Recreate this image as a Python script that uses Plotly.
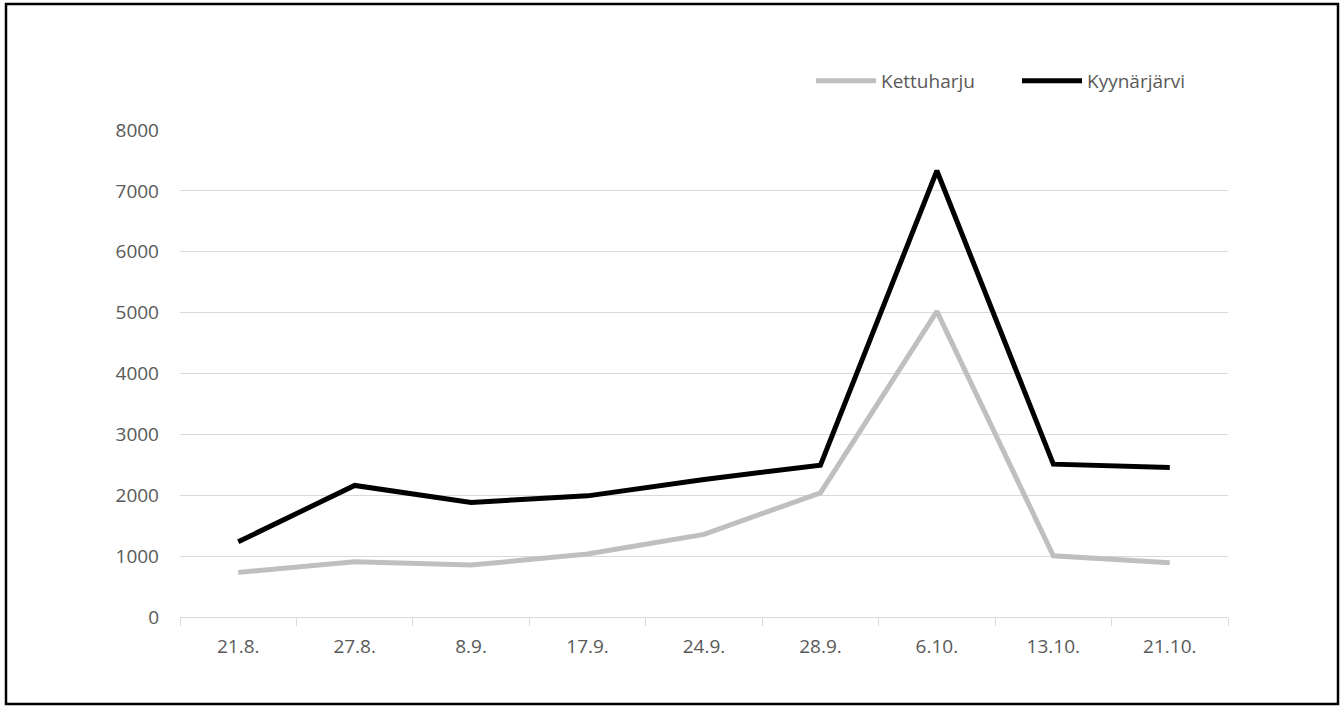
import plotly.graph_objects as go

dates = ["21.8.", "27.8.", "8.9.", "17.9.", "24.9.", "28.9.", "6.10.", "13.10.", "21.10."]
kettuharju = [733, 908, 853, 1034, 1357, 2040, 5020, 1006, 891]
kyynarjarvi = [1236, 2161, 1882, 1990, 2260, 2494, 7330, 2511, 2456]
y_ticks = [0, 1000, 2000, 3000, 4000, 5000, 6000, 7000, 8000]

fig = go.Figure()
fig.add_trace(go.Scatter(x=dates, y=kettuharju, name="Kettuharju", mode="lines",
                         line=dict(color="#BFBFBF", width=5)))
fig.add_trace(go.Scatter(x=dates, y=kyynarjarvi, name="Kyynärjärvi", mode="lines",
                         line=dict(color="#000000", width=5)))

L, R, T, B = 180, 115, 130, 91
W, H = 1343, 708
pw, ph = W - L - R, H - T - B

def px(xp):
    return (xp - L) / pw

def py(yp):
    return (H - B - yp) / ph

fig.update_layout(
    width=W, height=H,
    margin=dict(l=L, r=R, t=T, b=B),
    plot_bgcolor="white", paper_bgcolor="white",
    font=dict(family="Open Sans, Liberation Sans, sans-serif", size=19, color="#595959"),
    showlegend=True,
    legend=dict(orientation="h", x=px(811), y=py(81), xanchor="left", yanchor="middle",
                font=dict(size=19, color="#595959"), bgcolor="rgba(0,0,0,0)",
                itemwidth=60, traceorder="normal", entrywidth=131, entrywidthmode="pixels"),
    xaxis=dict(type="category", range=[-0.5, 8.5], showgrid=False, showline=True,
               linecolor="#D9D9D9", linewidth=1, ticks="outside", tickson="boundaries",
               ticklen=8, tickcolor="#D9D9D9", tickfont=dict(size=19, color="#595959"),
               ticklabelstandoff=12, zeroline=False, fixedrange=True),
    yaxis=dict(range=[0, 8000], tickvals=y_ticks, showgrid=True, gridcolor="#D9D9D9",
               gridwidth=1, zeroline=False, showline=False, ticks="",
               tickfont=dict(size=19, color="#595959"), ticklabelstandoff=20,
               fixedrange=True),
    shapes=[dict(type="rect", xref="paper", yref="paper",
                 x0=px(6), x1=px(1338), y0=py(704), y1=py(4),
                 line=dict(color="black", width=2.5), fillcolor="rgba(0,0,0,0)",
                 layer="above")],
)

fig.write_html("out.html", config={"displayModeBar": False},
               post_script="document.body.style.margin='0';document.body.style.overflow='hidden';")
